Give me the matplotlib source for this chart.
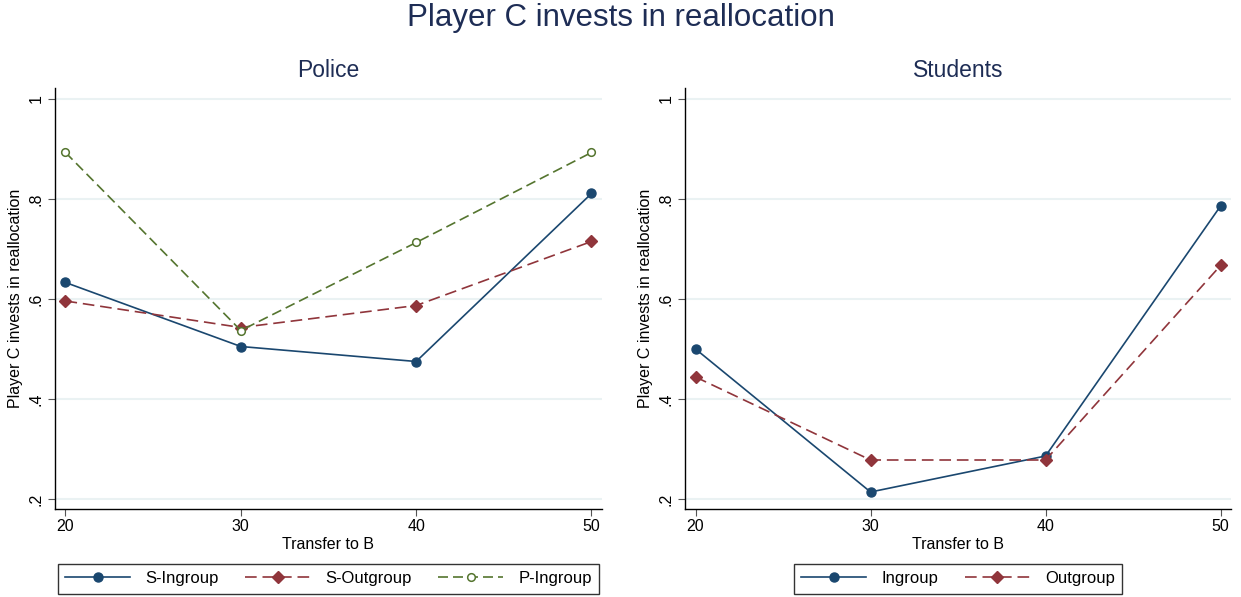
import numpy as np
import matplotlib.pyplot as plt

plt.rcParams['font.family'] = ['Liberation Sans', 'DejaVu Sans']

# transfer levels on the x axis
transfer = [20, 30, 40, 50]

# Police panel
police_s_in = [0.633, 0.505, 0.475, 0.811]
police_s_out = [0.596, 0.543, 0.587, 0.715]
police_p_in = [0.893, 0.537, 0.713, 0.893]

# Students panel
stud_in = [0.500, 0.214, 0.286, 0.786]
stud_out = [0.444, 0.278, 0.278, 0.667]

yticks = [0.2, 0.4, 0.6, 0.8, 1.0]
ytick_labels = ['.2', '.4', '.6', '.8', '1']

navy = '#1a476f'
maroon = '#90353b'
green = '#55752f'
title_col = '#1e2d55'
grid_col = '#eaf2f3'

fig = plt.figure(figsize=(12.41, 5.97), dpi=100)
ax1 = fig.add_axes([0.0443, 0.1474, 0.4408, 0.7052])
ax2 = fig.add_axes([0.552, 0.1474, 0.440, 0.7052])

fig.text(0.5, 0.97, 'Player C invests in reallocation', ha='center', va='center',
         fontsize=22.5, color=title_col)


def style_axes(ax, title):
    ax.set_xlim(19.4, 50.6)
    ax.set_ylim(0.18, 1.022)
    ax.set_xticks(transfer)
    ax.set_yticks(yticks)
    ax.set_yticklabels(ytick_labels, rotation=90, va='center')
    ax.tick_params(axis='both', labelsize=11.5, length=5, width=0.8, color='#555555')
    ax.tick_params(axis='x', pad=2)
    ax.tick_params(axis='y', pad=3)
    for s in ['top', 'right']:
        ax.spines[s].set_visible(False)
    for s in ['left', 'bottom']:
        ax.spines[s].set_linewidth(1.0)
    ax.grid(axis='y', color=grid_col, linewidth=1.5)
    ax.set_axisbelow(True)
    ax.set_xlabel('Transfer to B', fontsize=11.5, labelpad=2)
    ax.set_ylabel('Player C invests in reallocation', fontsize=11.5, labelpad=4)
    ax.set_title(title, fontsize=16.5, color=title_col, pad=8)


# left panel: police
ax1.plot(transfer, police_s_in, color=navy, lw=1.2, marker='o', ms=6.5, label='S-Ingroup')
ax1.plot(transfer, police_s_out, color=maroon, lw=1.2, marker='D', ms=6, dashes=(7, 3.5),
         label='S-Outgroup')
ax1.plot(transfer, police_p_in, color=green, lw=1.2, marker='o', ms=5.5, mfc='white',
         mew=1.1, dashes=(6, 3), label='P-Ingroup')
style_axes(ax1, 'Police')

# right panel: students
ax2.plot(transfer, stud_in, color=navy, lw=1.2, marker='o', ms=6.5, label='Ingroup')
ax2.plot(transfer, stud_out, color=maroon, lw=1.2, marker='D', ms=6, dashes=(7, 3.5),
         label='Outgroup')
style_axes(ax2, 'Students')

for ax in (ax1, ax2):
    leg = ax.legend(loc='upper center', bbox_to_anchor=(0.5, -0.11), ncol=3,
                    fontsize=12, frameon=True, fancybox=False, handlelength=3.9,
                    columnspacing=1.6, borderpad=0.45, handletextpad=0.9)
    leg.get_frame().set_edgecolor('black')
    leg.get_frame().set_linewidth(1.0)

fig.savefig('out.png', dpi=100, facecolor='white')
